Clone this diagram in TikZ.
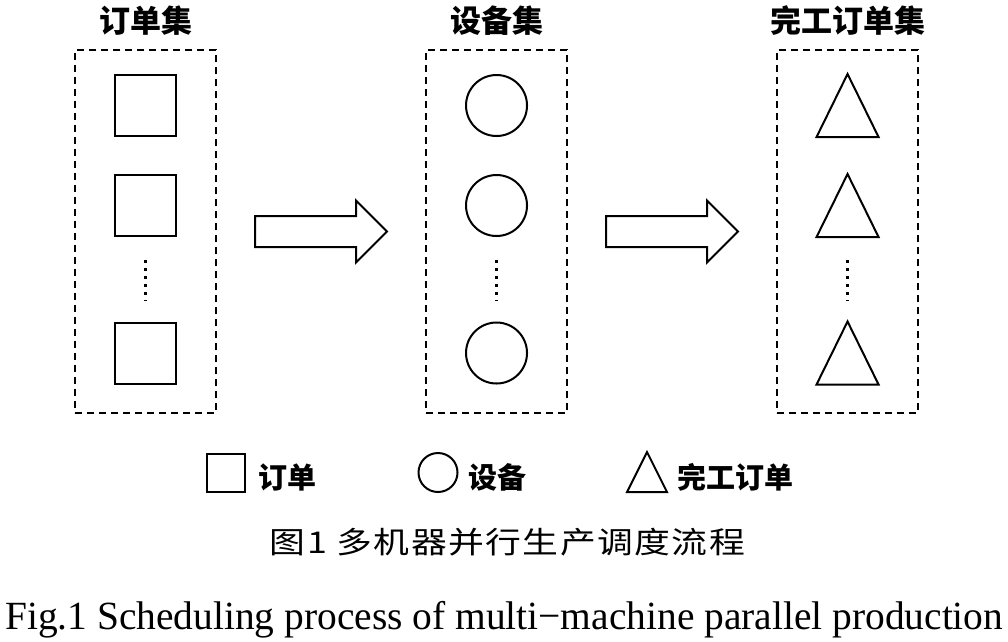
\documentclass[tikz,border=0pt]{standalone}
\usepackage{fontspec}
\usepackage{graphicx}
\setmainfont{Liberation Serif}
\newfontfamily\cjk{Noto Sans CJK SC}
\usetikzlibrary{positioning,shapes.arrows}
\newcommand*\cellsize{61pt}
\newcommand*\keysize {38pt}
\newcommand*\setgap  {39pt}
\tikzset{
    shapeline/.style  = {draw, line width=2pt, inner sep=0pt, outer sep=0pt},
    ordercell/.style  = {shapeline, rectangle, minimum size=\cellsize},
    machinecell/.style= {shapeline, circle, minimum size=\cellsize},
    trianglepath/.style = {line width=2pt, line join=miter},
    setbox/.style     = {draw, line width=2pt, dash pattern=on 7pt off 5pt,
                        minimum width=141pt, minimum height=363pt,
                        inner sep=0pt, outer sep=0pt},
    flowarrow/.style  = {shapeline, single arrow, minimum height=132pt,
                        inner ysep=14.5pt, single arrow head extend=15.5pt,
                        single arrow tip angle=90},
    dotcolumn/.style  = {line width=3.5pt, dash pattern=on 3pt off 5pt},
    settitle/.style   = {font=\cjk\bfseries\fontsize{31}{31}\selectfont, inner sep=0pt},
    keytext/.style    = {font=\cjk\bfseries\fontsize{29}{29}\selectfont, inner sep=0pt, anchor=west},
    captext/.style    = {inner sep=0pt},
  }

\begin{document}
\begin{tikzpicture}[x=1pt,y=-1pt]
        \useasboundingbox (0,0) rectangle (1008,641);

        % The three dashed sets with the block arrows between them
        \node[setbox] (orders) at (145.5,231.5) {};
        \node[flowarrow, right=\setgap of orders] (arrowA) {};
        \node[setbox, right=\setgap of arrowA] (machines) {};
        \node[flowarrow, right=\setgap of machines] (arrowB) {};
        \node[setbox, right=\setgap of arrowB] (finished) {};

        % Set titles
        \node[settitle] (ordersTitle)   at (orders |- 0,20.5)   {订单集};
        \node[settitle] (machinesTitle) at (machines |- 0,20.5) {设备集};
        \node[settitle] (finishedTitle) at (finished |- 0,20.5) {完工订单集};

        % Members of each set
        \foreach \y [count=\i from 1] in {105.5,205.5,353} {
            \node[ordercell]   (order\i)   at (orders |- 0,\y)   {};
            \node[machinecell] (machine\i) at (machines |- 0,\y) {};
            \coordinate (done\i) at (finished |- 0,\y);
            \draw[trianglepath] ([shift={(0,-31.5)}]done\i) -- ++(31,63) -- ++(-62,0) -- cycle;
        }

        % Vertical dots for the remaining members
        \foreach \b in {orders,machines,finished} {
            \draw[dotcolumn] (\b |- 0,260) -- (\b |- 0,301);
        }

        % Legend
        \node[ordercell, minimum size=\keysize] (keyOrder) at (226,472.5) {};
        \node[keytext] (keyOrderText) at (258,477) {订单};
        \node[machinecell, minimum size=39pt] (keyMachine) at (438,472.5) {};
        \node[keytext] (keyMachineText) at (468,477) {设备};
        \coordinate (keyDone) at (647,472);
        \draw[trianglepath] ([shift={(0,-20)}]keyDone) -- ++(20,40) -- ++(-40,0) -- cycle;
        \node[keytext] (keyDoneText) at (677,477) {完工订单};

        % Captions
        \node[captext] (capCN) at (507.5,542)
            {\resizebox{475pt}{\height}{\cjk\fontsize{30}{30}\selectfont\addfontfeatures{LetterSpace=4}图1 多机器并行生产调度流程}};
        \node[captext, anchor=base west] (capEN) at (5,629)
            {\resizebox{998pt}{\height}{\fontsize{40}{40}\selectfont Fig.1 Scheduling process of multi−machine parallel production}};
    \end{tikzpicture}
\end{document}
